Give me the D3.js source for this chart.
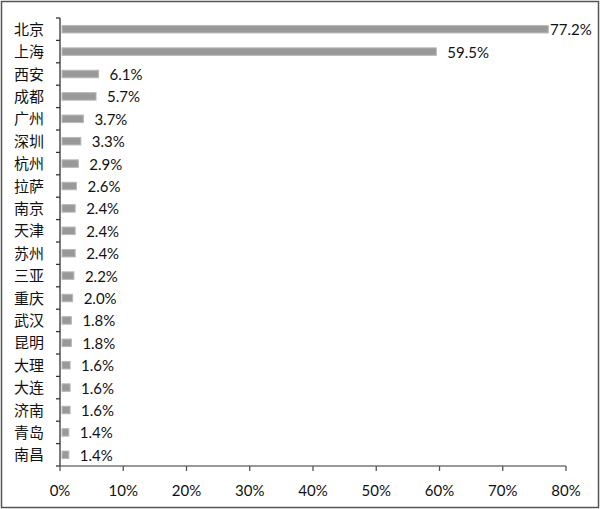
<!DOCTYPE html>
<html><head><meta charset="utf-8">
<script src="https://cdn.jsdelivr.net/npm/d3@7"></script>
<style>
html,body{margin:0;padding:0;background:#fff;}
svg{display:block;}
</style></head>
<body>
<script>
const categories = ["北京","上海","西安","成都","广州","深圳","杭州","拉萨","南京","天津","苏州","三亚","重庆","武汉","昆明","大理","大连","济南","青岛","南昌"];
const values = [77.2,59.5,6.1,5.7,3.7,3.3,2.9,2.6,2.4,2.4,2.4,2.2,2.0,1.8,1.8,1.6,1.6,1.6,1.4,1.4];
const xTicks = [0,10,20,30,40,50,60,70,80];

const W = 600, H = 509;
const svg = d3.select("body").append("svg").attr("width", W).attr("height", H);

svg.append("rect").attr("x",1.5).attr("y",1.5).attr("width",W-3).attr("height",H-3)
  .attr("fill","#fff").attr("stroke","#555").attr("stroke-width",1.5);

const x = d3.scaleLinear().domain([0,80]).range([60,566]);
const y = d3.scaleBand().domain(categories).range([18,466]);

const barH = 7.5;
svg.selectAll("rect.bar").data(values).join("rect").attr("class","bar")
  .attr("x", x(0)+2)
  .attr("y", (d,i)=> y(categories[i]) + y.bandwidth()/2 - barH/2)
  .attr("width", d => x(d)-x(0)-2)
  .attr("height", barH)
  .attr("fill","#999")
  .attr("stroke","#b8b8b8").attr("stroke-width",1);

const numFont = "Lato, 'Open Sans', sans-serif";
svg.selectAll("text.val").data(values).join("text").attr("class","val")
  .attr("x", d => Math.min(x(d)+11, 550))
  .attr("y", (d,i)=> y(categories[i]) + y.bandwidth()/2 + 6)
  .attr("font-family", numFont).attr("font-size",15).attr("fill","#111")
  .text(d => d.toFixed(1)+"%");

// y axis
const ya = svg.append("g");
ya.append("line").attr("x1",60).attr("x2",60).attr("y1",18).attr("y2",466).attr("stroke","#333").attr("stroke-width",1.3);
const bounds = categories.map(c=>y(c)).concat([466]);
ya.selectAll("line.t").data(bounds).join("line").attr("class","t")
  .attr("x1",56).attr("x2",60).attr("y1",d=>d).attr("y2",d=>d).attr("stroke","#333").attr("stroke-width",1.3);
ya.selectAll("text").data(categories).join("text")
  .attr("x",44).attr("y",c=>y(c)+y.bandwidth()/2+5.5)
  .attr("text-anchor","end")
  .attr("font-family","'Noto Sans CJK SC', sans-serif").attr("font-size",15).attr("fill","#111")
  .text(c=>c);

// x axis
const xa = svg.append("g").attr("transform","translate(0,466)");
xa.append("line").attr("x1",60).attr("x2",566).attr("stroke","#777").attr("stroke-width",1.5);
xa.selectAll("line.t").data(xTicks).join("line").attr("class","t")
  .attr("x1",d=>x(d)).attr("x2",d=>x(d)).attr("y1",0).attr("y2",5).attr("stroke","#555").attr("stroke-width",1.3);
xa.selectAll("text").data(xTicks).join("text")
  .attr("x",d=>x(d)).attr("y",30).attr("text-anchor","middle")
  .attr("font-family",numFont).attr("font-size",15).attr("fill","#111")
  .text(d=>d+"%");
</script>
</body></html>
